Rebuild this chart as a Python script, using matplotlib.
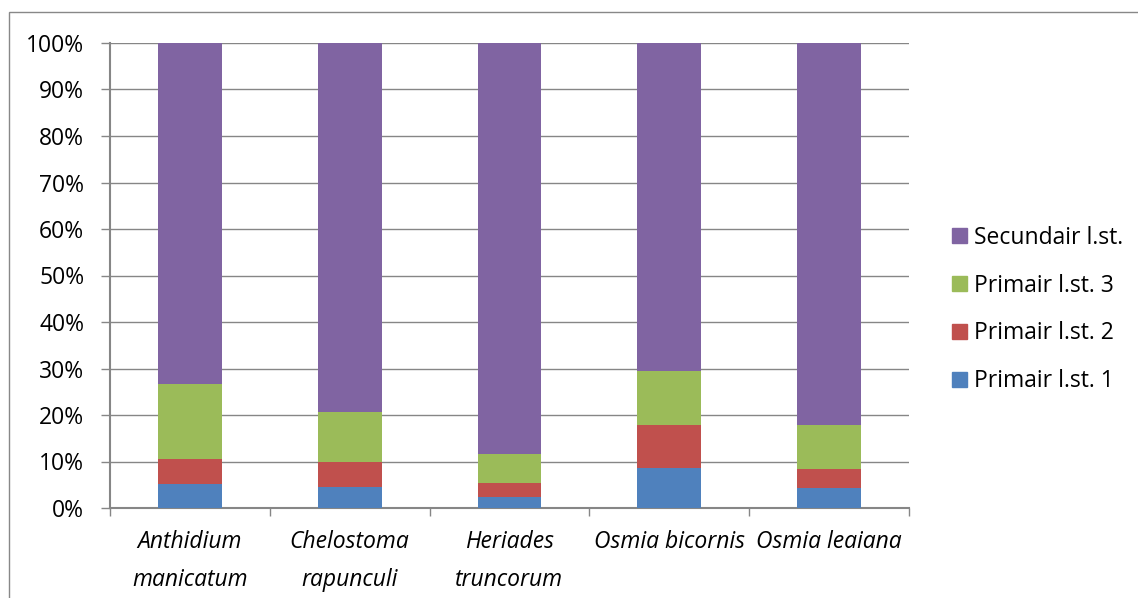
import numpy as np
import matplotlib
matplotlib.use('Agg')
import matplotlib.pyplot as plt
from matplotlib.patches import Rectangle, Patch
from matplotlib.ticker import PercentFormatter

plt.rcParams['font.family'] = ['Open Sans', 'DejaVu Sans']

# data (share of each stage, %)
species = ['Anthidium\nmanicatum', 'Chelostoma\nrapunculi', 'Heriades\ntruncorum',
           'Osmia bicornis', 'Osmia leaiana']
series = ['Primair l.st. 1', 'Primair l.st. 2', 'Primair l.st. 3', 'Secundair l.st.']
prim1 = [5.2, 4.6, 2.3, 8.5, 4.3]
prim2 = [5.4, 5.4, 3.1, 9.3, 4.0]
prim3 = [16.0, 10.6, 6.3, 11.7, 9.6]
secund = [73.4, 79.4, 88.3, 70.5, 82.1]
colors = ['#4F81BD', '#C0504D', '#9BBB59', '#8064A2']

W, H = 1138, 598
fs = 16.5
fig = plt.figure(figsize=(W / 100, H / 100), dpi=100)
ax = fig.add_axes([110 / W, (H - 508) / H, (909 - 110) / W, (508 - 43) / H])

x = np.arange(len(species))
bottom = np.zeros(len(species))
for vals, lab, c in zip([prim1, prim2, prim3, secund], series, colors):
    ax.bar(x, vals, 0.4, bottom=bottom, color=c, label=lab, zorder=3)
    bottom += np.array(vals)

grey = '#868686'
ax.set_xlim(-0.5, len(species) - 0.5)
ax.set_ylim(0, 100)
ax.set_yticks(np.arange(0, 101, 10))
ax.yaxis.set_major_formatter(PercentFormatter(decimals=0))
ax.grid(axis='y', color=grey, linewidth=1, zorder=0)
ax.set_axisbelow(True)

ax.set_xticks(x)
ax.set_xticklabels(species, fontstyle='italic', linespacing=1.75)
ax.set_xticks(np.arange(-0.5, len(species)), minor=True)
ax.tick_params(axis='x', which='major', length=0, pad=16, labelsize=fs)
ax.tick_params(axis='x', which='minor', length=6, width=1, color=grey, direction='out')
ax.tick_params(axis='y', length=6.5, width=1, color=grey, pad=12, labelsize=fs)

for s in ['top', 'right']:
    ax.spines[s].set_visible(False)
for s in ['left', 'bottom']:
    ax.spines[s].set_color(grey)
    ax.spines[s].set_linewidth(1.5)

handles = [Patch(color=c, label=l) for c, l in zip(colors, series)][::-1]
fig.legend(handles=handles, loc='center left', bbox_to_anchor=(952 / W, (H - 309.5) / H),
           frameon=False, fontsize=fs, handlelength=0.65, handleheight=0.65,
           handletextpad=0.3, labelspacing=1.04, borderpad=0, borderaxespad=0)

# chart border (cut off at right and bottom)
fig.patches.append(Rectangle((8.5 / W, -0.1), 2, (H - 12.5) / H + 0.1,
                             transform=fig.transFigure, fill=False,
                             edgecolor='#888888', linewidth=1))

fig.savefig('out.png', dpi=100)
